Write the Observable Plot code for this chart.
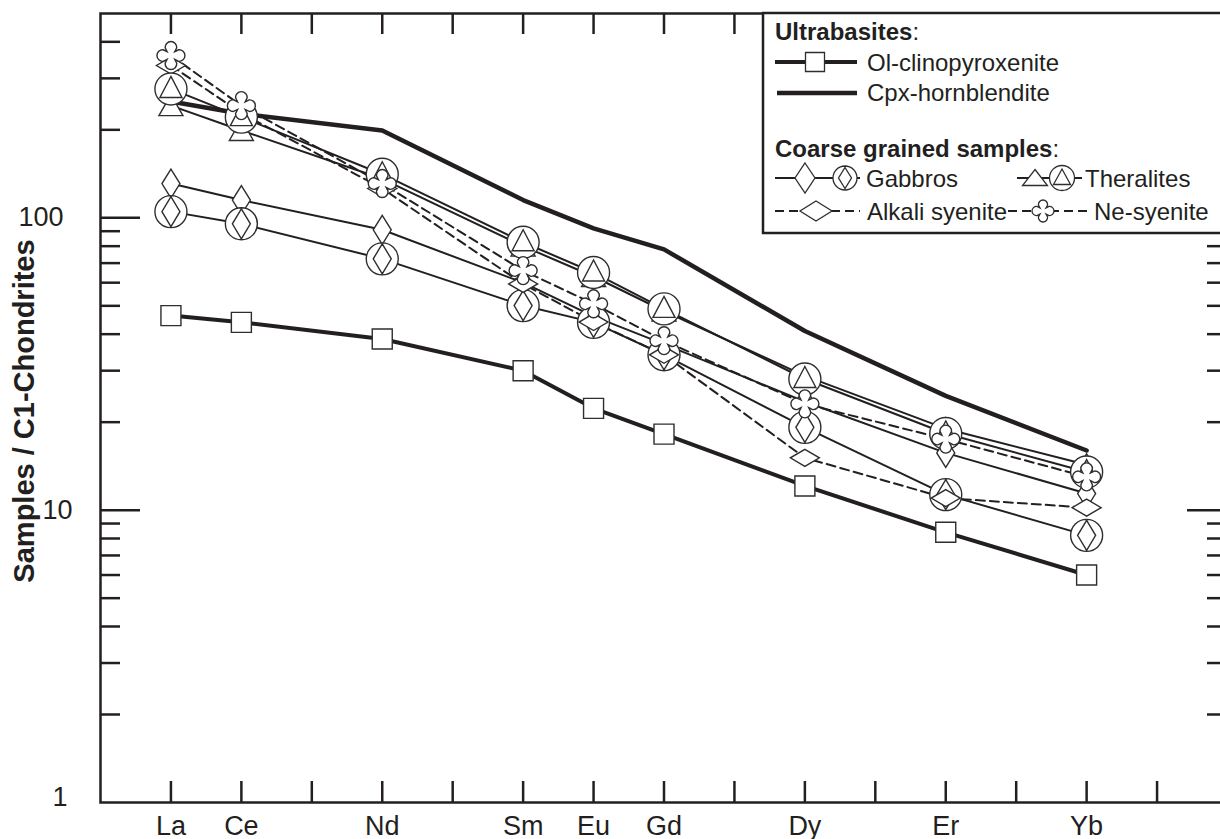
<!DOCTYPE html>
<html><head><meta charset="utf-8">
<script src="https://cdn.jsdelivr.net/npm/d3@7"></script>
<script src="https://cdn.jsdelivr.net/npm/@observablehq/plot@0.6"></script>
<style>html,body{margin:0;padding:0;background:#fff;overflow:hidden;width:1220px;height:839px}</style>
</head><body><div id="chart"></div>
<script>
// ---- data ----
const elements = ["La","Ce","Pr","Nd","Pm","Sm","Eu","Gd","Tb","Dy","Ho","Er","Tm","Yb","Lu"];
const sampledElements = ["La","Ce","Nd","Sm","Eu","Gd","Dy","Er","Yb"];
const labeledElements = ["La","Ce","Nd","Sm","Eu","Gd","Dy","Er","Yb"];
const olClinopyroxenite = [46.3, 43.9, 38.5, 30.0, 22.3, 18.2, 12.1, 8.4, 6.0];
const cpxHornblendite   = [250, 227, 199, 115, 92, 78, 41, 24.6, 16];
const gabbroDiamond     = [131, 115, 91, 60, 46, 37, 23.5, 15.7, 11.4];
const gabbroCircle      = [105, 95.4, 72.4, 50.1, 43.9, 34, 19.2, 11.3, 8.2];
const theraliteTriangle = [242, 199, 136, 80, 63, 48, 28.8, 19, 14.3];
const theraliteCircle   = [276, 221, 141, 82.5, 65, 48.8, 28.1, 18.3, 13.5];
const alkaliSyenite     = [332, 228, 126, 59.4, 44, 34, 15.1, 11, 10.2];
const neSyenite         = [359, 242, 131, 66, 50.8, 38, 23.1, 17.5, 13];
const yLabelTicks = [1, 10, 100];
const majorTicks = [10, 100];
const minorTicks = [2,3,4,5,6,7,8,9,20,30,40,50,60,70,80,90,200,300,400];
const yTitle = "Samples / C1-Chondrites";

// ---- helpers ----
const ink = "#231f20";
const rows = (vals, series) => vals.map((v, k) => ({series, el: sampledElements[k], i: elements.indexOf(sampledElements[k]), v}));

function diamondPath(ctx, hw, hh) { ctx.moveTo(0, -hh); ctx.lineTo(hw, 0); ctx.lineTo(0, hh); ctx.lineTo(-hw, 0); ctx.closePath(); }
function trianglePath(ctx, top, base, hw) { ctx.moveTo(0, -top); ctx.lineTo(hw, base); ctx.lineTo(-hw, base); ctx.closePath(); }
function circlePath(ctx, r) { ctx.moveTo(r, 0); ctx.arc(0, 0, r, 0, 2 * Math.PI); ctx.closePath(); }
function crossPath(ctx, d, r, c0) {
  const a = 1.65;
  for (let k = 0; k < 4; k++) {
    const t = -Math.PI / 2 + k * Math.PI / 2;
    const cx = d * Math.cos(t), cy = d * Math.sin(t);
    if (k === 0) ctx.moveTo(cx + r * Math.cos(t - a), cy + r * Math.sin(t - a));
    ctx.arc(cx, cy, r, t - a, t + a);
    ctx.lineTo(c0 * Math.cos(t + Math.PI / 4), c0 * Math.sin(t + Math.PI / 4));
  }
  ctx.closePath();
}
const sym = fn => ({draw(ctx) { fn(ctx); }});
const S = {
  square: sym(c => c.rect(-10, -10, 20, 20)),
  tallDiamond: sym(c => diamondPath(c, 9, 14.5)),
  wideDiamond: sym(c => diamondPath(c, 14.5, 8.5)),
  circleDiamond: sym(c => { circlePath(c, 16); diamondPath(c, 9, 15); }),
  triangle: sym(c => trianglePath(c, 11, 10, 12)),
  circleTriangle: sym(c => { circlePath(c, 16); trianglePath(c, 12.5, 8.5, 11); }),
  cross: sym(c => crossPath(c, 8.2, 5.8, 5.4))
};

const series = [
  {name: "Ol-clinopyroxenite", vals: olClinopyroxenite, sw: 4, dash: null, symbol: S.square},
  {name: "Cpx-hornblendite", vals: cpxHornblendite, sw: 4.5, dash: null, symbol: null},
  {name: "Gabbro 1", vals: gabbroDiamond, sw: 2, dash: null, symbol: S.tallDiamond},
  {name: "Theralite 1", vals: theraliteTriangle, sw: 2, dash: null, symbol: S.triangle},
  {name: "Gabbro 2", vals: gabbroCircle, sw: 2, dash: null, symbol: S.circleDiamond},
  {name: "Alkali syenite", vals: alkaliSyenite, sw: 2, dash: "9,5", symbol: S.wideDiamond},
  {name: "Theralite 2", vals: theraliteCircle, sw: 2, dash: null, symbol: S.circleTriangle},
  {name: "Ne-syenite", vals: neSyenite, sw: 2, dash: "9,5", symbol: S.cross}
];

const W = 1228, H = 839, mL = 100, mR = 1, mT = 13, mB = 37;
const fw = W - mL - mR, fh = H - mT - mB;

const marks = [];
for (const s of series) {
  marks.push(Plot.line(rows(s.vals, s.name), {x: "i", y: "v", stroke: ink, strokeWidth: s.sw, strokeDasharray: s.dash, strokeLinejoin: "miter"}));
}
const dotOrder = ["Gabbro 1", "Theralite 1", "Gabbro 2", "Alkali syenite", "Theralite 2", "Ne-syenite", "Ol-clinopyroxenite"];
for (const n of dotOrder) {
  const s = series.find(d => d.name === n);
  marks.push(Plot.dot(rows(s.vals, s.name), {x: "i", y: "v", r: 10, symbol: s.symbol, fill: "white", stroke: "#2e2e2e", strokeWidth: 1.4}));
}
const idx = elements.map((_, i) => i);
marks.push(
  Plot.tickX(idx, {x: d => d, insetTop: fh - 21, stroke: ink, strokeWidth: 2.5}),
  Plot.tickX(idx, {x: d => d, insetBottom: fh - 21, stroke: ink, strokeWidth: 2.5}),
  Plot.tickY(minorTicks, {y: d => d, insetRight: fw - 20, stroke: ink, strokeWidth: 2.5}),
  Plot.tickY(majorTicks, {y: d => d, insetRight: fw - 40, stroke: ink, strokeWidth: 2.5}),
  Plot.tickY(minorTicks, {y: d => d, insetLeft: fw - 20, stroke: ink, strokeWidth: 2.5}),
  Plot.tickY(majorTicks, {y: d => d, insetLeft: fw - 40, stroke: ink, strokeWidth: 2.5}),
  Plot.frame({stroke: ink, strokeWidth: 2.5}),
  Plot.axisX(labeledElements.map(e => elements.indexOf(e)), {anchor: "bottom", tickSize: 0, tickPadding: 13, tickFormat: i => elements[i], fontSize: 27, label: null}),
  Plot.axisY([yLabelTicks[2]], {anchor: "left", tickSize: 0, tickPadding: 37, tickFormat: d => String(d), fontSize: 27, label: null}),
  Plot.axisY([yLabelTicks[1]], {anchor: "left", tickSize: 0, tickPadding: 28, tickFormat: d => String(d), fontSize: 27, label: null}),
  Plot.axisY([yLabelTicks[0]], {anchor: "left", tickSize: 0, tickPadding: 33, dy: -5, tickFormat: d => String(d), fontSize: 27, label: null}),
  Plot.text([yTitle], {text: d => d, frameAnchor: "left", rotate: -90, dx: -76, dy: 3, fontSize: 29, fontWeight: "bold", textAnchor: "middle", fill: ink})
);

const chart = Plot.plot({
  width: W, height: H, marginLeft: mL, marginRight: mR, marginTop: mT, marginBottom: mB,
  x: {type: "linear", domain: [-1, 15]},
  y: {type: "log", domain: [1, 500]},
  style: {fontFamily: "'Liberation Sans', Arial, Helvetica, sans-serif", color: ink, background: "white", overflow: "visible", maxWidth: "none"},
  marks
});
chart.style.maxWidth = "none";
chart.style.width = W + "px";
chart.style.height = H + "px";
document.getElementById("chart").appendChild(chart);

// ---- legend (drawn on top of the plot) ----
const svg = d3.select(chart);
const g = svg.append("g").attr("font-family", "'Liberation Sans', Arial, Helvetica, sans-serif").attr("fill", ink).attr("font-size", 24).attr("text-anchor", "start").style("text-anchor", "start");
g.append("rect").attr("x", 763).attr("y", 13).attr("width", 480).attr("height", 220).attr("fill", "white").attr("stroke", ink).attr("stroke-width", 2.5);
const pathOf = fn => { const p = d3.path(); fn(p); return p.toString(); };
const legSym = (x, y, fn) => g.append("path").attr("transform", `translate(${x},${y})`).attr("d", pathOf(fn)).attr("fill", "white").attr("stroke", "#2e2e2e").attr("stroke-width", 1.3);
const legLine = (x1, x2, y, sw, dash) => g.append("line").attr("x1", x1).attr("x2", x2).attr("y1", y).attr("y2", y).attr("stroke", ink).attr("stroke-width", sw).attr("stroke-dasharray", dash || null);
const legText = (x, y, t, bold) => {
  const tx = g.append("text").attr("x", x).attr("y", y).attr("text-anchor", "start");
  if (bold) { tx.append("tspan").attr("font-weight", "bold").text(t); tx.append("tspan").text(":"); }
  else tx.text(t);
};
legText(775, 40, "Ultrabasites", true);
legLine(775, 857, 62, 4); legSym(815, 62, c => c.rect(-9.5, -9.5, 19, 19)); legText(867, 71, "Ol-clinopyroxenite");
legLine(777, 857, 93, 4.5); legText(867, 101, "Cpx-hornblendite");
legText(775, 157, "Coarse grained samples", true);
legLine(775, 860, 178, 2); legSym(805, 178, c => diamondPath(c, 10, 15)); legSym(845, 178, c => { circlePath(c, 12); diamondPath(c, 6.5, 10.5); });
legText(866, 187, "Gabbros");
legLine(1017, 1082, 178, 2); legSym(1035, 178, c => trianglePath(c, 8.5, 7.5, 12.5)); legSym(1062, 178, c => { circlePath(c, 12.5); trianglePath(c, 9, 6.5, 8.5); });
legText(1085, 187, "Theralites");
legLine(775, 860, 211, 2, "9,5"); legSym(816, 211, c => diamondPath(c, 16, 10)); legText(867, 220, "Alkali syenite");
legLine(1008, 1092, 211, 2, "9,5"); legSym(1043, 211, c => crossPath(c, 6.4, 4.6, 4.2)); legText(1094, 220, "Ne-syenite");
</script>
</body></html>
